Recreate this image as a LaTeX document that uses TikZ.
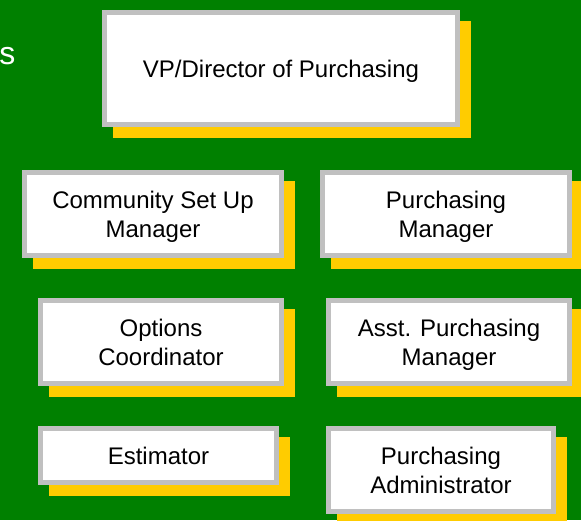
\documentclass[tikz,border=0pt]{standalone}
\usepackage{fontspec}
\setmainfont{Liberation Sans}
\usepackage{tikz}
\usetikzlibrary{shapes,shadows}
\definecolor{bggreen}{RGB}{0,128,0}
\definecolor{boxgray}{RGB}{192,192,192}
\definecolor{boxyellow}{RGB}{255,204,0}
\tikzstyle{chartbox} = [rectangle, draw=boxgray, line width=5.3pt, fill=white, text=black,
align=center, text centered, text depth=0pt, inner sep=0pt, font=\fontsize{24}{29}\selectfont,
drop shadow={shadow xshift=11pt, shadow yshift=-11pt, fill=boxyellow, draw=boxyellow, line width=5.3pt, opacity=1}]
\tikzstyle{titletext} = [text=white, inner sep=0pt, font=\fontsize{32}{38}\selectfont]

\begin{document}
\begin{tikzpicture}[x=1pt, y=1pt, node distance=128pt]
		%background
		\fill[bggreen](-281,68.5) rectangle (300,-451.5);
		\useasboundingbox (-281,68.5) rectangle (300,-451.5);
		\node[titletext, anchor=base east] (title1) at (-265.5,4.5) {s};
		\node[titletext, anchor=base east] (title2) at (-278.5,-32.5) {n};
		
		%blocks
		\node[chartbox, minimum width=352.7pt, minimum height=111.7pt](vp){VP/Director of Purchasing};
		\node[chartbox, below of=vp, yshift=-17.5pt, xshift=-128pt, minimum width=256.7pt, minimum height=82.7pt](setup){Community Set Up\\Manager};
		\node[chartbox, right of=setup, xshift=165pt, minimum width=246.7pt, minimum height=82.7pt](pmgr){Purchasing\\Manager};
		\node[chartbox, below of=setup, xshift=8pt, minimum width=240.7pt, minimum height=82.7pt](options){Options\\Coordinator};
		\node[chartbox, below of=pmgr, xshift=3pt, minimum width=240.7pt, minimum height=82.7pt](asst){Asst. Purchasing\\Manager};
		\node[chartbox, below of=options, yshift=14.5pt, xshift=-2.5pt, minimum width=235.7pt, minimum height=53.7pt](estimator){Estimator};
		\node[chartbox, below of=asst, xshift=-8pt, minimum width=224.7pt, minimum height=82.7pt](admin){Purchasing\\Administrator};
	\end{tikzpicture}
\end{document}
